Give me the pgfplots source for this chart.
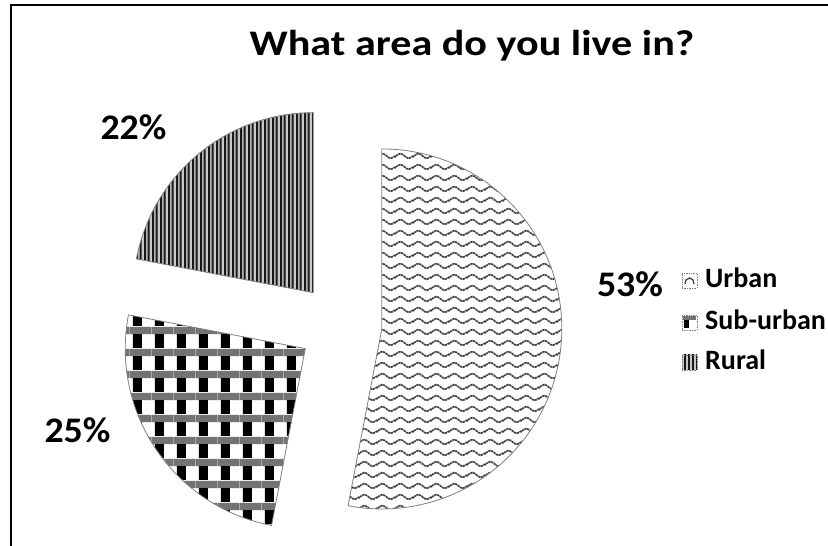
\documentclass[border=0pt]{standalone}
\usepackage{fontspec}
\setmainfont{Carlito}
\usepackage{pgfplots}
\pgfplotsset{compat=1.18}
\usepackage{pgfplotstable}
\usetikzlibrary{patterns.meta}

\tikzdeclarepattern{
  name=urbanwave, type=colored,
  bounding box={(0pt,0pt) and (18pt,11pt)},
  tile size={(18pt,11pt)},
  code={
    \draw[line width=1.8pt, black!75, dash pattern=on 2.4pt off 0.7pt] (0pt,5.5pt) sin (4.5pt,8pt) cos (9pt,5.5pt) sin (13.5pt,3pt) cos (18pt,5.5pt);
  }
}
\tikzdeclarepattern{
  name=suburbcheck, type=colored,
  bounding box={(0pt,0pt) and (21.6pt,21.6pt)},
  tile size={(21.6pt,21.6pt)},
  code={
    \fill[white] (0pt,0pt) rectangle (21.6pt,21.6pt);
    \fill[black!55] (0pt,14pt) rectangle (21.6pt,21.6pt);
    \fill[black] (3pt,0pt) rectangle (12pt,14pt);
  }
}
\tikzdeclarepattern{
  name=ruralstripes, type=colored,
  bounding box={(0pt,0pt) and (8pt,600pt)},
  tile size={(8pt,600pt)},
  code={
    \fill[black!22] (0pt,0pt) rectangle (8pt,600pt);
    \fill[black!90] (0pt,0pt) rectangle (2.3pt,600pt);
    \fill[black!90] (4pt,0pt) rectangle (6.3pt,600pt);
  }
}

\pgfplotstableread{
label value
Urban 53
Sub-urban 25
Rural 22
}\piedata

\begin{document}
\begin{tikzpicture}
\pgfplotstablegetelem{0}{value}\of\piedata \let\vA\pgfplotsretval
\pgfplotstablegetelem{1}{value}\of\piedata \let\vB\pgfplotsretval
\pgfplotstablegetelem{2}{value}\of\piedata \let\vC\pgfplotsretval
\pgfmathsetmacro{\tot}{\vA+\vB+\vC}
\pgfmathsetmacro{\aZ}{90}
\pgfmathsetmacro{\aA}{\aZ-360*(\vA/\tot)}
\pgfmathsetmacro{\aB}{\aA-360*(\vB/\tot)}
\pgfmathsetmacro{\aC}{\aB-360*(\vC/\tot)}
\def\pcx{340}\def\pcy{221}\def\rad{180}\def\expl{42}
\pgfmathsetmacro{\mA}{(\aZ+\aA)/2}
\pgfmathsetmacro{\cxA}{\pcx+\expl*cos(\mA)}
\pgfmathsetmacro{\cyA}{\pcy+\expl*sin(\mA)}
\pgfmathsetmacro{\sxA}{\cxA+\rad*cos(\aZ)}
\pgfmathsetmacro{\syA}{\cyA+\rad*sin(\aZ)}
\pgfmathsetmacro{\mB}{(\aA+\aB)/2}
\pgfmathsetmacro{\cxB}{\pcx+\expl*cos(\mB)}
\pgfmathsetmacro{\cyB}{\pcy+\expl*sin(\mB)}
\pgfmathsetmacro{\sxB}{\cxB+\rad*cos(\aA)}
\pgfmathsetmacro{\syB}{\cyB+\rad*sin(\aA)}
\pgfmathsetmacro{\mC}{(\aB+\aC)/2}
\pgfmathsetmacro{\cxC}{\pcx+\expl*cos(\mC)}
\pgfmathsetmacro{\cyC}{\pcy+\expl*sin(\mC)}
\pgfmathsetmacro{\sxC}{\cxC+\rad*cos(\aB)}
\pgfmathsetmacro{\syC}{\cyC+\rad*sin(\aB)}
\begin{axis}[x=1pt,y=1pt,xmin=0,xmax=828,ymin=0,ymax=546,
  at={(0pt,0pt)}, anchor=origin,
  hide axis, clip=false, scale only axis, disabledatascaling]
\path (axis cs:0,0) rectangle (axis cs:828,546);
% frame
\draw[line width=2pt, black] (axis cs:11,0) -- (axis cs:11,541) -- (axis cs:828,541);
% title
\node[anchor=base, inner sep=0pt, font=\fontsize{36}{40}\selectfont\bfseries] at (axis cs:472,490) {\scalebox{1.17}[1]{What area do you live in?}};
% slices
\filldraw[pattern=urbanwave, draw=black!50, line width=0.8pt]
  (axis cs:\cxA,\cyA) -- (axis cs:\sxA,\syA) arc[start angle=\aZ, end angle=\aA, radius=\rad] -- cycle;
\filldraw[pattern=suburbcheck, draw=black!50, line width=0.8pt]
  (axis cs:\cxB,\cyB) -- (axis cs:\sxB,\syB) arc[start angle=\aA, end angle=\aB, radius=\rad] -- cycle;
\filldraw[pattern=ruralstripes, draw=black!50, line width=0.8pt]
  (axis cs:\cxC,\cyC) -- (axis cs:\sxC,\syC) arc[start angle=\aB, end angle=\aC, radius=\rad] -- cycle;
% data labels
\node[anchor=base, inner sep=0pt, font=\fontsize{36}{40}\selectfont\bfseries] at (axis cs:630,249) {\scalebox{1.05}[1]{\vA\%}};
\node[anchor=base, inner sep=0pt, font=\fontsize{36}{40}\selectfont\bfseries] at (axis cs:77.5,103) {\scalebox{1.05}[1]{\vB\%}};
\node[anchor=base, inner sep=0pt, font=\fontsize{36}{40}\selectfont\bfseries] at (axis cs:133.5,406) {\scalebox{1.05}[1]{\vC\%}};
% legend markers
\filldraw[fill=white, draw=black!50, line width=0.7pt, densely dotted] (axis cs:682,258) rectangle (axis cs:697,273);
\draw[black!75, line width=1.3pt] (axis cs:685,262) -- (axis cs:686,266) -- (axis cs:689.5,268) -- (axis cs:693,266) -- (axis cs:694,262);
\filldraw[fill=white, draw=black!50, line width=0.7pt, densely dotted] (axis cs:682,216) rectangle (axis cs:697,231);
\fill[black!55] (axis cs:683,226) rectangle (axis cs:696,230);
\fill[black] (axis cs:684,218) rectangle (axis cs:689,226);
\filldraw[pattern=ruralstripes, draw=black!50, line width=0.7pt, densely dotted] (axis cs:682,176) rectangle (axis cs:697,191);
% legend texts
\node[anchor=base west, inner sep=0pt, font=\fontsize{28}{32}\selectfont\bfseries] at (axis cs:705,258) {Urban};
\node[anchor=base west, inner sep=0pt, font=\fontsize{28}{32}\selectfont\bfseries] at (axis cs:705,216) {Sub-urban};
\node[anchor=base west, inner sep=0pt, font=\fontsize{28}{32}\selectfont\bfseries] at (axis cs:705,176) {Rural};
\end{axis}
\pgfresetboundingbox
\useasboundingbox (0pt,0pt) rectangle (828pt,546pt);
\end{tikzpicture}
\end{document}
